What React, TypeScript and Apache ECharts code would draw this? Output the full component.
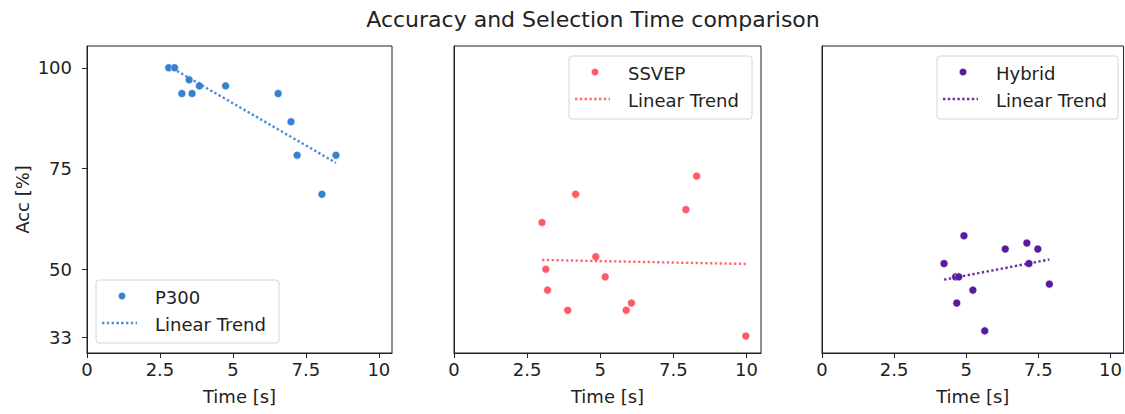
import React, { useEffect, useRef } from "react";
import * as echarts from "echarts";

const titleText = "Accuracy and Selection Time comparison";
const xTicks = [0, 2.5, 5, 7.5, 10];
const yTicks = [33, 50, 75, 100];

const p300Time = [2.8, 3.0, 3.25, 3.5, 3.6, 3.85, 4.75, 6.55, 6.99, 7.2, 8.05, 8.53];
const p300Acc = [100, 100, 93.6, 97, 93.6, 95.5, 95.5, 93.6, 86.6, 78.3, 68.6, 78.3];
const p300Trend = [[2.8, 100.4], [8.53, 76.4]];

const ssvepTime = [3.01, 3.14, 3.2, 3.89, 4.16, 4.85, 5.17, 5.89, 6.07, 7.93, 8.3, 9.98];
const ssvepAcc = [61.6, 50.0, 44.8, 39.8, 68.6, 53.1, 48.1, 39.8, 41.6, 64.8, 73.1, 33.4];
const ssvepTrend = [[3.01, 52.3], [9.98, 51.3]];

const hybridTime = [4.23, 4.63, 4.74, 4.67, 4.92, 5.23, 5.64, 6.35, 7.1, 7.17, 7.48, 7.88];
const hybridAcc = [51.4, 48.1, 48.1, 41.6, 58.3, 44.8, 34.7, 55.0, 56.5, 51.4, 55.0, 46.3];
const hybridTrend = [[4.23, 47.4], [7.88, 52.4]];

const names = ["P300", "SSVEP", "Hybrid"];
const colors = ["#3682cf", "#ff5a66", "#5a1a9e"];

const FONT = "DejaVu Sans";

export default function App() {
  const ref = useRef<HTMLDivElement>(null);
  useEffect(() => {
    const chart = echarts.init(ref.current!, null, { renderer: "svg" });
    const grids = [
      { left: 87, top: 46, width: 305, height: 307 },
      { left: 454, top: 46, width: 307, height: 307 },
      { left: 822, top: 46, width: 305, height: 307 },
    ];
    const xMax = [10.45, 10.5, 10.45];
    const scatterData = [
      p300Time.map((t, i) => [t, p300Acc[i]]),
      ssvepTime.map((t, i) => [t, ssvepAcc[i]]),
      hybridTime.map((t, i) => [t, hybridAcc[i]]),
    ];
    const trends = [p300Trend, ssvepTrend, hybridTrend];

    const xAxes = grids.map((_, i) => ({
      type: "value",
      gridIndex: i,
      min: 0,
      max: xMax[i],
      name: "Time [s]",
      nameLocation: "middle",
      nameGap: 34,
      nameTextStyle: { fontFamily: FONT, fontSize: 18, color: "#222" },
      splitLine: { show: false },
      axisLine: { show: true, lineStyle: { color: "#222", width: 1 } },
      axisTick: { show: true, length: 5, inside: false, lineStyle: { color: "#222" }, customValues: xTicks },
      axisLabel: { fontFamily: FONT, fontSize: 18, color: "#222", margin: 7, customValues: xTicks },
    }));
    const yAxes = grids.map((_, i) => ({
      type: "value",
      gridIndex: i,
      min: 29.2,
      max: 105.4,
      name: i === 0 ? "Acc [%]" : "",
      nameLocation: "middle",
      nameGap: 56,
      nameTextStyle: { fontFamily: FONT, fontSize: 18, color: "#222" },
      splitLine: { show: false },
      axisLine: { show: true, lineStyle: { color: "#222", width: 1 } },
      axisTick: { show: i === 0, length: 5, lineStyle: { color: "#222" }, customValues: yTicks },
      axisLabel: { show: i === 0, fontFamily: FONT, fontSize: 18, color: "#222", margin: 15, customValues: yTicks },
    }));

    const series: any[] = [];
    for (let i = 0; i < 3; i++) {
      series.push({
        type: "scatter",
        name: names[i],
        xAxisIndex: i,
        yAxisIndex: i,
        data: scatterData[i],
        symbolSize: 8,
        itemStyle: { color: colors[i], borderColor: "#fff", borderWidth: 0.6, opacity: 1 },
      });
      series.push({
        type: "line",
        name: "Linear Trend " + i,
        xAxisIndex: i,
        yAxisIndex: i,
        data: trends[i],
        showSymbol: false,
        symbol: "none",
        lineStyle: { color: colors[i], width: 2.4, type: [2.4, 2.4], opacity: 0.9 },
      });
    }

    const legendBoxes = [
      { x: 96, y: 280, w: 183, h: 63 },
      { x: 569, y: 56, w: 183, h: 63 },
      { x: 937, y: 56, w: 181, h: 63 },
    ];
    const graphic: any[] = [];
    legendBoxes.forEach((b, i) => {
      graphic.push({
        type: "rect",
        shape: { x: b.x, y: b.y, width: b.w, height: b.h, r: 3 },
        style: { fill: "rgba(255,255,255,0.8)", stroke: "#d6d6d6", lineWidth: 1 },
        z: 100,
      });
      graphic.push({
        type: "circle",
        shape: { cx: b.x + 26, cy: b.y + 16, r: 3.8 },
        style: { fill: colors[i], stroke: "#fff", lineWidth: 0.6 },
        z: 101,
      });
      graphic.push({
        type: "line",
        shape: { x1: b.x + 6, y1: b.y + 43, x2: b.x + 41, y2: b.y + 43 },
        style: { stroke: colors[i], lineWidth: 2.4, lineDash: [2.4, 2.4], opacity: 0.9 },
        z: 101,
      });
      graphic.push({
        type: "text",
        x: b.x + 59,
        y: b.y + 17,
        style: { text: names[i], fontFamily: FONT, fontSize: 18, fill: "#222", verticalAlign: "middle", align: "left" },
        z: 101,
      });
      graphic.push({
        type: "text",
        x: b.x + 59,
        y: b.y + 44,
        style: { text: "Linear Trend", fontFamily: FONT, fontSize: 18, fill: "#222", verticalAlign: "middle", align: "left" },
        z: 101,
      });
    });

    chart.setOption({
      animation: false,
      backgroundColor: "#fff",
      title: {
        text: titleText,
        left: 588,
        top: 3,
        textAlign: "center",
        textStyle: { fontFamily: FONT, fontSize: 22, fontWeight: "normal", color: "#222" },
      },
      grid: grids.map((g) => ({ ...g, show: true, borderColor: "#222", borderWidth: 1, backgroundColor: "transparent" })),
      xAxis: xAxes,
      yAxis: yAxes,
      series,
      graphic,
    } as any);
    return () => chart.dispose();
  }, []);
  return (
    <div
      ref={ref}
      style={{ position: "fixed", left: 0, top: 0, width: 1125, height: 414 }}
    />
  );
}
